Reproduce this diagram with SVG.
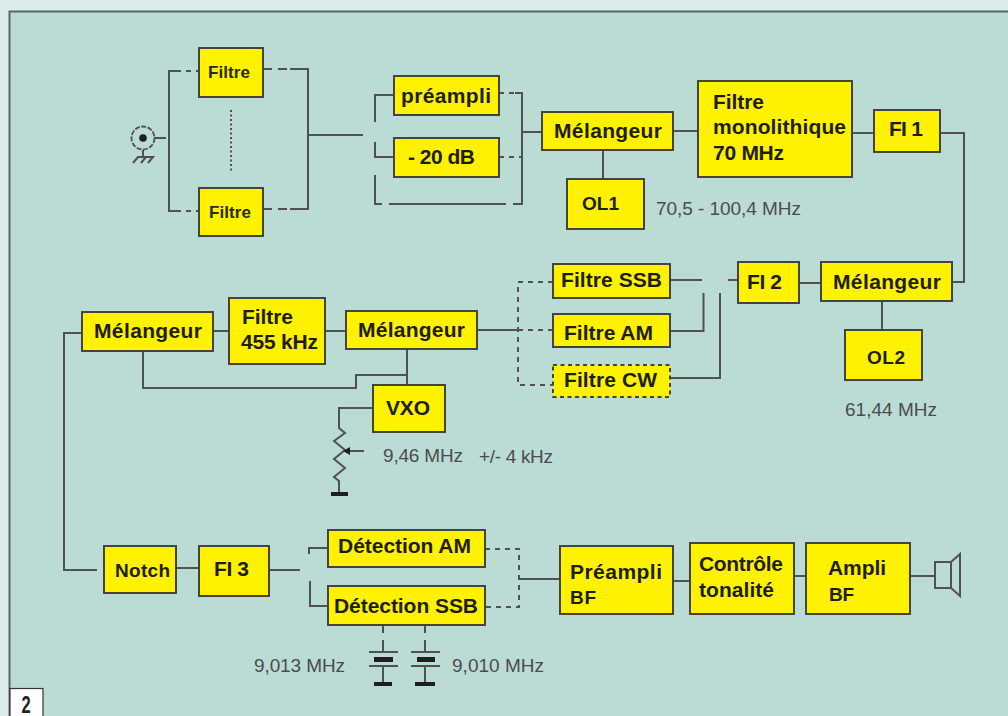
<svg xmlns="http://www.w3.org/2000/svg" width="1008" height="716" viewBox="0 0 1008 716">
<style>
.b{fill:#fff200;stroke:#444438;stroke-width:2}
.d{stroke-dasharray:4 3.5}
text{font-family:"Liberation Sans",Arial,sans-serif}
.t{font-size:21px;font-weight:700;fill:#1e1e08}
.n{font-size:19px}
.s{font-size:17px;font-weight:700;fill:#2a2a10}
.g{font-size:19px;fill:#4a4d4d}
.c{fill:none;stroke:#50524e;stroke-width:2}
.h{fill:none;stroke:#50524e;stroke-width:2;stroke-dasharray:9 6}
.k{fill:none;stroke:#50524e;stroke-width:2;stroke-dasharray:5 5}
.q{fill:#1e1e1e;stroke:none}
</style>
<rect width="1008" height="716" fill="#dcedea"/>
<rect x="9.5" y="11.5" width="1000" height="710" fill="#bbdbd5" stroke="#5c6664" stroke-width="2"/>
<g id="connectors">
<path class="c" d="M154 138H166"/>
<path class="c" d="M176 71H169V211H176"/>
<path class="k" d="M176 71H199M176 211H199"/>
<path class="h" d="M263 69H290M263 209H290"/>
<path class="c" d="M290 69H308V209H290M308 135H363"/>
<path d="M231 110V172" fill="none" stroke="#50524e" stroke-width="2" stroke-dasharray="2 2.5"/>
<path class="c" d="M394 95H375V122M375 142V157H394M375 175V204H382M389 204H506M513 204H522V93H515"/>
<path class="k" d="M499 93H515M499 157H522"/>
<path class="c" d="M522 132H542M673 131H698M852 133H874M940 133H964V282H952"/>
<path class="c" d="M603 150V179M882 301V330M799 283H821"/>
<path class="c" d="M728 280H738M670 280H702M703.500 293V331H670M720 293V378H670"/>
<path class="c" d="M477 330H518"/>
<path class="k" d="M553 282H518V385H553M518 330H553"/>
<path class="c" d="M213 331H229M325 331H346"/>
<path class="c" d="M407 349V385M407 375H356V388H143V351"/>
<path class="c" d="M373 408H339V428L345 433L334 441L345 450L334 459L345 468L334 477L339 481V493"/>
<path class="c" d="M364 451H346"/>
<path class="q" d="M343 451L350 447V455Z"/>
<path class="c" d="M82 333H64V570H97M176 568H199M269 570H300"/>
<path class="c" d="M328 548H309V554M310 581V606H328"/>
<path class="k" d="M485 549H519V607H485"/>
<path class="c" d="M520 579H560M673 581H690M794 576H806M910 576H935"/>
<path class="c" d="M383 625V633M383 640V652M425 625V633M425 640V652"/>
<path class="c" d="M383 666V684M425 666V684"/>
</g>
<g id="antenna">
<circle cx="143" cy="138" r="11.500" fill="none" stroke="#50524e" stroke-width="1.800" stroke-dasharray="5 1.500"/>
<circle cx="143" cy="138" r="3.800" fill="#1e1e1e"/>
<path class="c" stroke-width="1.500" d="M143 150V157M133 163L138 157H153L148 163M141 163L146 157"/>
</g>
<g id="filtre1"><rect class="b" x="199" y="48" width="64" height="49"/><text class="s" x="208" y="78" textLength="42">Filtre</text></g>
<g id="filtre2"><rect class="b" x="199" y="188" width="64" height="48"/><text class="s" x="209" y="218" textLength="42">Filtre</text></g>
<g id="preampli"><rect class="b" x="394" y="76" width="105" height="39"/><text class="t" x="401" y="103" textLength="90">préampli</text></g>
<g id="att20"><rect class="b" x="394" y="138" width="105" height="39"/><text class="t" x="408" y="164" textLength="67">- 20 dB</text></g>
<g id="melangeur1"><rect class="b" x="542" y="112" width="131" height="38"/><text class="t" x="554" y="138" textLength="108">Mélangeur</text></g>
<g id="ol1"><rect class="b" x="567" y="179" width="77" height="50"/><text class="t n" x="582" y="210" textLength="37">OL1</text></g>
<g id="filtremono"><rect class="b" x="698" y="81" width="154" height="96"/><text class="t" x="713" y="109" textLength="51">Filtre</text><text class="t" x="713" y="134" textLength="133">monolithique</text><text class="t" x="713" y="160" textLength="71">70 MHz</text></g>
<g id="fi1"><rect class="b" x="874" y="110" width="66" height="42"/><text class="t" x="889" y="136" textLength="34">FI 1</text></g>
<g id="fi2"><rect class="b" x="738" y="262" width="61" height="41"/><text class="t" x="747" y="289" textLength="35">FI 2</text></g>
<g id="melangeur2"><rect class="b" x="821" y="262" width="131" height="39"/><text class="t" x="833" y="289" textLength="108">Mélangeur</text></g>
<g id="ol2"><rect class="b" x="845" y="330" width="77" height="50"/><text class="t n" x="867" y="364" textLength="38">OL2</text></g>
<g id="filtressb"><rect class="b" x="553" y="264" width="117" height="34"/><text class="t" x="561" y="287" textLength="101">Filtre SSB</text></g>
<g id="filtream"><rect class="b" x="553" y="314" width="117" height="33"/><text class="t" x="564" y="340" textLength="89">Filtre AM</text></g>
<g id="filtrecw"><rect class="b d" x="553" y="365" width="117" height="32"/><text class="t" x="564" y="387" textLength="93">Filtre CW</text></g>
<g id="melangeur3"><rect class="b" x="346" y="311" width="131" height="38"/><text class="t" x="358" y="337" textLength="107">Mélangeur</text></g>
<g id="filtre455"><rect class="b" x="229" y="298" width="96" height="66"/><text class="t" x="242" y="324" textLength="51">Filtre</text><text class="t" x="241" y="349" textLength="77">455 kHz</text></g>
<g id="melangeur4"><rect class="b" x="82" y="312" width="131" height="39"/><text class="t" x="94" y="338" textLength="108">Mélangeur</text></g>
<g id="vxo"><rect class="b" x="373" y="385" width="72" height="47"/><text class="t" x="386" y="415" textLength="44">VXO</text></g>
<g id="notch"><rect class="b" x="104" y="546" width="72" height="47"/><text class="t n" x="115" y="577" textLength="55">Notch</text></g>
<g id="fi3"><rect class="b" x="199" y="546" width="70" height="50"/><text class="t" x="214" y="576" textLength="35">FI 3</text></g>
<g id="detam"><rect class="b" x="328" y="530" width="157" height="37"/><text class="t" x="338" y="553" textLength="133">Détection AM</text></g>
<g id="detssb"><rect class="b" x="328" y="586" width="157" height="39"/><text class="t" x="334" y="613" textLength="144">Détection SSB</text></g>
<g id="preamplibf"><rect class="b" x="560" y="546" width="113" height="68"/><text class="t" x="570" y="579" textLength="92">Préampli</text><text class="t n" x="570" y="604" textLength="26">BF</text></g>
<g id="controle"><rect class="b" x="690" y="543" width="104" height="71"/><text class="t" x="699" y="571" textLength="84">Contrôle</text><text class="t" x="699" y="597" textLength="75">tonalité</text></g>
<g id="amplibf"><rect class="b" x="806" y="543" width="104" height="71"/><text class="t" x="828" y="575" textLength="58">Ampli</text><text class="t n" x="829" y="601" textLength="25">BF</text></g>
<g id="hautparleur"><path class="c" d="M935 562H951V588H935ZM951 562L960 554V596L951 588"/></g>
<g id="quartz1"><path class="c" d="M369 652H398M369 666H398"/><rect class="q" x="374" y="657" width="19" height="5"/><rect class="q" x="374" y="682" width="18" height="4"/></g>
<g id="quartz2"><path class="c" d="M411 652H440M411 666H440"/><rect class="q" x="417" y="657" width="18" height="5"/><rect class="q" x="415" y="682" width="20" height="4"/></g>
<g id="masse"><rect class="q" x="331" y="492" width="17" height="4"/></g>
<g id="labels">
<text class="g" x="656" y="215" textLength="145">70,5 - 100,4 MHz</text>
<text class="g" x="845" y="416" textLength="92">61,44 MHz</text>
<text class="g" x="383" y="462" textLength="80">9,46 MHz</text>
<text class="g" x="479" y="463" textLength="74">+/- 4 kHz</text>
<text class="g" x="254" y="672" textLength="91">9,013 MHz</text>
<text class="g" x="452" y="672" textLength="92">9,010 MHz</text>
</g>
<g id="numero"><rect x="10" y="688.500" width="33" height="30" fill="#fff" stroke="#333" stroke-width="1.200"/><text transform="translate(21.500 713) scale(.72 1)" font-size="23" font-weight="700" fill="#222">2</text></g>
</svg>
